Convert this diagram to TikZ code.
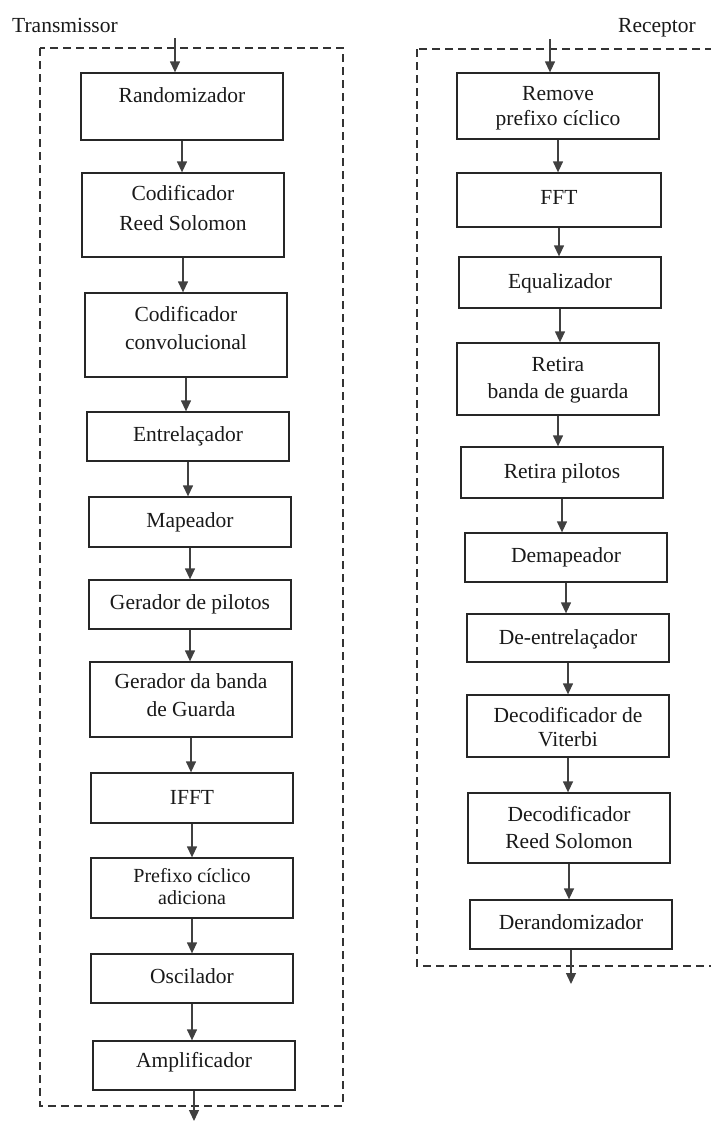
\documentclass[tikz,border=0pt]{standalone}
\usepackage{fontspec}
\setmainfont{Liberation Serif}
\usetikzlibrary{arrows.meta}

% two centred lines whose first baseline is the baseline of the box
\newcommand\twoln[3]{{\fontsize{21.5}{#1}\selectfont\begin{tabular}[t]{@{}c@{}}#2\\#3\end{tabular}}}

\begin{document}
\begin{tikzpicture}[x=1pt,y=-1pt,
  blk/.style={draw=black!85, line width=1.3pt, rectangle, inner xsep=0pt, inner ysep=0pt,
              font=\fontsize{21.5}{26}\selectfont, text=black!90, anchor=base},
  lab/.style={font=\fontsize{21.5}{26}\selectfont, text=black!90, inner sep=0pt},
  arr/.style={draw=black!75, line width=1.3pt, -{Triangle[width=10pt,length=11pt]}},
  grp/.style={draw=black!80, line width=1.7pt, dash pattern=on 8pt off 5pt}]
\useasboundingbox (0,0) rectangle (710,1122);

% group frames
\draw[grp] (40,48) rectangle (343,1106);
\draw[grp] (417,49) rectangle (714,966);

\node[lab, anchor=base west] (tx) at (12,32) {Transmissor};
\node[lab, anchor=base east] (rx) at (696,32) {Receptor};

% transmitter chain
\node[blk, minimum width=202pt, text height=29pt, text depth=38pt] (rand) at (182,102) {Randomizador};
\node[blk, minimum width=202pt, text height=27pt, text depth=57pt] (codrs) at (183,200) {\twoln{30}{Codificador}{Reed Solomon}};
\node[blk, minimum width=202pt, text height=28pt, text depth=56pt] (codconv) at (186,321) {\twoln{28}{Codificador}{convolucional}};
\node[blk, minimum width=202pt, text height=29pt, text depth=20pt] (entrel) at (188,441) {Entrelaçador};
\node[blk, minimum width=202pt, text height=30pt, text depth=20pt] (map) at (190,527) {Mapeador};
\node[blk, minimum width=202pt, text height=29pt, text depth=20pt] (gerpil) at (190,609) {Gerador de pilotos};
\node[blk, minimum width=202pt, text height=26pt, text depth=49pt] (gerbanda) at (191,688) {\twoln{28}{Gerador da banda}{de Guarda}};
\node[blk, minimum width=202pt, text height=31pt, text depth=19pt] (ifft) at (192,804) {IFFT};
\node[blk, minimum width=202pt, text height=24pt, text depth=36pt] (prefixo) at (192,882)
      {{\fontsize{20}{22}\selectfont\begin{tabular}[t]{@{}c@{}}Prefixo cíclico\\adiciona\end{tabular}}};
\node[blk, minimum width=202pt, text height=29pt, text depth=20pt] (osc) at (192,983) {Oscilador};
\node[blk, minimum width=202pt, text height=26pt, text depth=23pt] (amp) at (194,1067) {Amplificador};

% receiver chain
\node[blk, minimum width=202pt, text height=27pt, text depth=39pt] (remove) at (558,100) {\twoln{25}{Remove}{prefixo cíclico}};
\node[blk, minimum width=204pt, text height=31pt, text depth=23pt] (fft) at (559,204) {FFT};
\node[blk, minimum width=202pt, text height=31pt, text depth=20pt] (equal) at (560,288) {Equalizador};
\node[blk, minimum width=202pt, text height=28pt, text depth=44pt] (retbanda) at (558,371) {\twoln{27}{Retira}{banda de guarda}};
\node[blk, minimum width=202pt, text height=31pt, text depth=20pt] (retpil) at (562,478) {Retira pilotos};
\node[blk, minimum width=202pt, text height=29pt, text depth=20pt] (demap) at (566,562) {Demapeador};
\node[blk, minimum width=202pt, text height=30pt, text depth=18pt] (deentrel) at (568,644) {De-entrelaçador};
\node[blk, minimum width=202pt, text height=27pt, text depth=35pt] (viterbi) at (568,722) {\twoln{24}{Decodificador de}{Viterbi}};
\node[blk, minimum width=202pt, text height=28pt, text depth=42pt] (decrs) at (569,821) {\twoln{27}{Decodificador}{Reed Solomon}};
\node[blk, minimum width=202pt, text height=29pt, text depth=20pt] (derand) at (571,929) {Derandomizador};

% free ends of the chains
\coordinate (tin) at (175,38);
\coordinate (tout) at (194,1121);
\coordinate (rin) at (550,39);
\coordinate (rout) at (571,984);

% transmitter connectors
\draw[arr] (tin) -- (tin |- rand.north);
\draw[arr] (rand.south) -- (rand.south |- codrs.north);
\draw[arr] (codrs.south) -- (codrs.south |- codconv.north);
\draw[arr] (codconv.south) -- (codconv.south |- entrel.north);
\draw[arr] (entrel.south) -- (entrel.south |- map.north);
\draw[arr] (map.south) -- (map.south |- gerpil.north);
\draw[arr] (gerpil.south) -- (gerpil.south |- gerbanda.north);
\draw[arr] (gerbanda.south) -- (gerbanda.south |- ifft.north);
\draw[arr] (ifft.south) -- (ifft.south |- prefixo.north);
\draw[arr] (prefixo.south) -- (prefixo.south |- osc.north);
\draw[arr] (osc.south) -- (osc.south |- amp.north);
\draw[arr] (amp.south) -- (tout);

% receiver connectors
\draw[arr] (rin) -- (rin |- remove.north);
\draw[arr] (remove.south) -- (remove.south |- fft.north);
\draw[arr] (fft.south) -- (fft.south |- equal.north);
\draw[arr] (equal.south) -- (equal.south |- retbanda.north);
\draw[arr] (retbanda.south) -- (retbanda.south |- retpil.north);
\draw[arr] (retpil.south) -- (retpil.south |- demap.north);
\draw[arr] (demap.south) -- (demap.south |- deentrel.north);
\draw[arr] (deentrel.south) -- (deentrel.south |- viterbi.north);
\draw[arr] (viterbi.south) -- (viterbi.south |- decrs.north);
\draw[arr] (decrs.south) -- (decrs.south |- derand.north);
\draw[arr] (derand.south) -- (rout);
\end{tikzpicture}
\end{document}
